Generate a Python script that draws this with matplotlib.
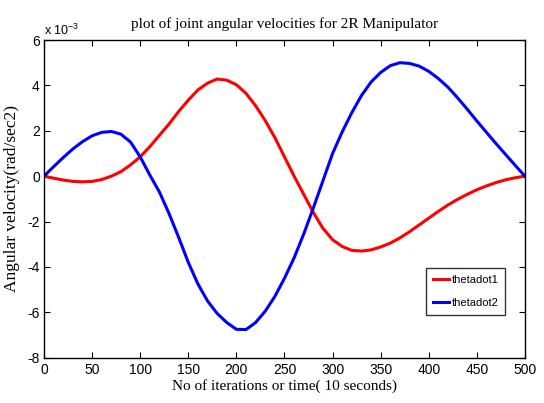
import matplotlib
matplotlib.use("Agg")
import matplotlib.pyplot as plt

iterations = [0, 10, 20, 30, 40, 50, 60, 70, 80, 90, 100, 110, 120, 130, 140, 150, 160, 170, 180, 190,
              200, 210, 220, 230, 240, 250, 260, 270, 280, 290, 300, 310, 320, 330, 340, 350, 360, 370,
              380, 390, 400, 410, 420, 430, 440, 450, 460, 470, 480, 490, 500]

# values in units of 1e-3 rad/sec
thetadot1 = [0, -0.09, -0.17, -0.23, -0.25, -0.23, -0.15, 0.0, 0.2, 0.5,
             0.85, 1.3, 1.8, 2.3, 2.85, 3.35, 3.8, 4.1, 4.28, 4.23,
             4.03, 3.65, 3.1, 2.45, 1.7, 0.85, 0.0, -0.8, -1.6, -2.3,
             -2.8, -3.1, -3.27, -3.3, -3.25, -3.12, -2.95, -2.72, -2.45, -2.15,
             -1.85, -1.55, -1.27, -1.02, -0.8, -0.6, -0.43, -0.28, -0.16, -0.07,
             0]
thetadot2 = [0, 0.42, 0.82, 1.2, 1.52, 1.78, 1.93, 1.97, 1.85, 1.5,
             0.85, 0.05, -0.7, -1.65, -2.7, -3.8, -4.75, -5.5, -6.05, -6.45,
             -6.75, -6.76, -6.45, -5.95, -5.3, -4.5, -3.6, -2.55, -1.4, -0.2,
             1.0, 1.95, 2.8, 3.55, 4.15, 4.57, 4.87, 5.0, 4.97, 4.85,
             4.62, 4.3, 3.92, 3.45, 2.95, 2.43, 1.93, 1.43, 0.95, 0.47,
             0]

xticks = [0, 50, 100, 150, 200, 250, 300, 350, 400, 450, 500]
yticks = [-8, -6, -4, -2, 0, 2, 4, 6]

fig = plt.figure(figsize=(5.44, 4.03), dpi=100)
ax = fig.add_axes([0.0809, 0.1124, 0.8841, 0.7883])

ax.plot(iterations, thetadot1, color='#ff0000', lw=2.2, label='thetadot1')
ax.plot(iterations, thetadot2, color='#0000ff', lw=2.2, label='thetadot2')

ax.set_xlim(0, 500)
ax.set_ylim(-8, 6)
ax.set_xticks(xticks)
ax.set_yticks(yticks)
ax.set_xticklabels([str(t) for t in xticks], family='Liberation Sans', fontsize=10)
ax.set_yticklabels([str(t) for t in yticks], family='Liberation Sans', fontsize=10)
ax.tick_params(axis='x', direction='in', top=True, length=4, width=0.8, pad=4)
ax.tick_params(axis='y', direction='in', right=True, length=4, width=0.8, pad=3)
for s in ax.spines.values():
    s.set_linewidth(1.0)

ax.text(0.0, 1.005, r'x 10$^{\mathregular{-3}}$', transform=ax.transAxes, ha='left', va='bottom',
        family='Liberation Sans', fontsize=9)

ax.set_title('plot of joint angular velocities for 2R Manipulator', family='Liberation Serif',
             fontsize=11, pad=9)
ax.set_xlabel('No of iterations or time( 10 seconds)', family='Liberation Serif', fontsize=11,
              labelpad=1)
ax.set_ylabel('Angular velocity(rad/sec2)', family='Liberation Serif', fontsize=12.5, labelpad=5)

leg = ax.legend(loc='upper left', bbox_to_anchor=(0.794, 0.282), borderaxespad=0, frameon=True,
                fancybox=False, edgecolor='black', handlelength=1.5, handletextpad=0.2,
                borderpad=0.6, labelspacing=1.2,
                prop={'family': 'Liberation Sans', 'size': 8})
leg.get_frame().set_linewidth(1.0)

fig.savefig('out.png', dpi=100)
